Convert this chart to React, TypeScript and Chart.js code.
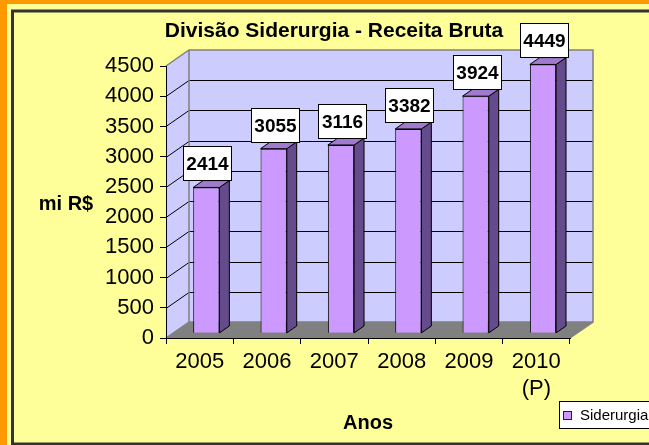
import React, { useEffect, useRef } from "react";
import { Chart, registerables } from "chart.js";

Chart.register(...registerables);

// ---- data ----
const categories: (string | string[])[] = ["2005", "2006", "2007", "2008", "2009", ["2010", "(P)"]];
const seriesLabel = "Siderurgia";
const values = [2414, 3055, 3116, 3382, 3924, 4449];
const yMin = 0;
const yMax = 4500;
const yStep = 500;
const chartTitle = "Divisão Siderurgia - Receita Bruta";
const yTitle = "mi R$";
const xTitle = "Anos";

// ---- style ----
const FONT = "'Liberation Sans', Arial, Helvetica, sans-serif";
const ORANGE = "#FF9900";
const YELLOW = "#FFFF99";
const FRAME = "#333333";
const WALL = "#CCCCFF";
const FLOOR = "#808080";
const EDGE = "#808080";
const BAR_FRONT = "#CC99FF";
const BAR_SIDE = "#644C8C";
const BAR_TOP = "#A07ACC";
const DX = 23;
const DY = 16;
const FRONT_F = 0.29;
const BACK_F = 0.72;

const W = 649;
const H = 445;

const threeD = {
  id: "threeD",
  beforeDraw(chart: any) {
    const ctx = chart.ctx as CanvasRenderingContext2D;
    ctx.save();
    // page frame
    ctx.fillStyle = ORANGE;
    ctx.fillRect(0, 0, W, H);
    ctx.fillStyle = YELLOW;
    ctx.fillRect(7, 4, W, H);
    ctx.strokeStyle = FRAME;
    ctx.lineWidth = 3;
    ctx.strokeRect(12.5, 11, 700, 433);

    const ys = chart.scales.y;
    const left = chart.chartArea.left;
    const right = chart.chartArea.right;
    const top = ys.getPixelForValue(yMax);
    const bottom = ys.getPixelForValue(yMin);

    // back wall
    ctx.fillStyle = WALL;
    ctx.fillRect(left + DX, top - DY, right - left, bottom - top);
    // left wall
    ctx.beginPath();
    ctx.moveTo(left, top);
    ctx.lineTo(left + DX, top - DY);
    ctx.lineTo(left + DX, bottom - DY);
    ctx.lineTo(left, bottom);
    ctx.closePath();
    ctx.fill();
    // floor
    ctx.fillStyle = FLOOR;
    ctx.beginPath();
    ctx.moveTo(left, bottom);
    ctx.lineTo(right, bottom);
    ctx.lineTo(right + DX, bottom - DY);
    ctx.lineTo(left + DX, bottom - DY);
    ctx.closePath();
    ctx.fill();

    // gridlines
    ctx.strokeStyle = "#000";
    ctx.lineWidth = 1;
    for (const t of ys.ticks) {
      if (t.value <= yMin || t.value >= yMax) continue;
      const py = Math.round(ys.getPixelForValue(t.value)) + 0.5;
      ctx.beginPath();
      ctx.moveTo(left, py);
      ctx.lineTo(left + DX, py - DY);
      ctx.lineTo(right + DX, py - DY);
      ctx.stroke();
    }
    // wall edges
    ctx.strokeStyle = EDGE;
    ctx.lineWidth = 1.5;
    ctx.beginPath();
    ctx.moveTo(left, top);
    ctx.lineTo(left + DX, top - DY);
    ctx.lineTo(right + DX, top - DY);
    ctx.lineTo(right + DX, bottom - DY);
    ctx.lineTo(right, bottom);
    ctx.moveTo(left + DX, top - DY);
    ctx.lineTo(left + DX, bottom - DY);
    ctx.lineTo(right + DX, bottom - DY);
    ctx.moveTo(left + DX, bottom - DY);
    ctx.lineTo(left, bottom);
    ctx.stroke();
    ctx.restore();
  },
  beforeDatasetDraw(chart: any) {
    const ctx = chart.ctx as CanvasRenderingContext2D;
    ctx.save();
    ctx.translate(DX * FRONT_F, -DY * FRONT_F);
  },
  afterDatasetDraw(chart: any, args: any) {
    const ctx = chart.ctx as CanvasRenderingContext2D;
    const bx = DX * (BACK_F - FRONT_F);
    const by = DY * (BACK_F - FRONT_F);
    ctx.lineWidth = 1;
    ctx.strokeStyle = "#000";
    for (const el of args.meta.data) {
      const p = el.getProps(["x", "y", "base", "width"], true);
      const l = p.x - p.width / 2;
      const r = p.x + p.width / 2;
      const t = p.y;
      const b = p.base;
      // side
      ctx.fillStyle = BAR_SIDE;
      ctx.beginPath();
      ctx.moveTo(r, t);
      ctx.lineTo(r + bx, t - by);
      ctx.lineTo(r + bx, b - by);
      ctx.lineTo(r, b);
      ctx.closePath();
      ctx.fill();
      ctx.stroke();
      // top
      ctx.fillStyle = BAR_TOP;
      ctx.beginPath();
      ctx.moveTo(l, t);
      ctx.lineTo(l + bx, t - by);
      ctx.lineTo(r + bx, t - by);
      ctx.lineTo(r, t);
      ctx.closePath();
      ctx.fill();
      ctx.stroke();
    }
    ctx.restore();
  },
  afterDraw(chart: any) {
    const ctx = chart.ctx as CanvasRenderingContext2D;
    ctx.save();
    // data labels
    const meta = chart.getDatasetMeta(0);
    const ds = chart.data.datasets[0];
    ctx.font = `bold 19px ${FONT}`;
    ctx.textAlign = "center";
    ctx.textBaseline = "middle";
    meta.data.forEach((el: any, i: number) => {
      const p = el.getProps(["x", "y"], true);
      const cx = p.x + DX * FRONT_F + 1;
      const bottomY = p.y - DY * FRONT_F - 7;
      const bw = 48;
      const bh = 34;
      const lx = Math.round(cx - bw / 2) + 0.5;
      const ty = Math.round(bottomY - bh) + 0.5;
      ctx.fillStyle = "#FFFFFF";
      ctx.fillRect(lx, ty, bw, bh);
      ctx.strokeStyle = "#000";
      ctx.lineWidth = 1;
      ctx.strokeRect(lx, ty, bw, bh);
      ctx.fillStyle = "#000";
      ctx.fillText(String(ds.data[i]), lx + bw / 2, ty + bh / 2 + 1);
    });

    // title
    ctx.font = `bold 21px ${FONT}`;
    ctx.fillStyle = "#000";
    ctx.textAlign = "center";
    ctx.fillText(chartTitle, 334, 31);
    // axis titles
    ctx.font = `bold 20px ${FONT}`;
    ctx.fillText(yTitle, 66, 204);
    ctx.fillText(xTitle, 368, 423);

    // legend
    ctx.fillStyle = "#FFFFFF";
    ctx.fillRect(559.5, 401.5, 120, 27);
    ctx.strokeStyle = "#000";
    ctx.lineWidth = 1;
    ctx.strokeRect(559.5, 401.5, 120, 27);
    ctx.fillStyle = ds.backgroundColor as string;
    ctx.fillRect(563.5, 411.5, 8, 8);
    ctx.strokeStyle = "#222";
    ctx.strokeRect(563.5, 411.5, 8, 8);
    ctx.fillStyle = "#000";
    ctx.font = `15px ${FONT}`;
    ctx.textAlign = "left";
    ctx.fillText(ds.label, 580, 416);
    ctx.restore();
  },
};

export default function App() {
  const ref = useRef<HTMLCanvasElement | null>(null);
  useEffect(() => {
    if (!ref.current) return;
    const chart = new Chart(ref.current, {
      type: "bar",
      data: {
        labels: categories,
        datasets: [
          {
            label: seriesLabel,
            data: values,
            backgroundColor: BAR_FRONT,
            borderColor: "#000",
            borderWidth: 1,
            barPercentage: 0.39,
            categoryPercentage: 1,
            clip: false as any,
          },
        ],
      },
      options: {
        animation: false,
        responsive: false,
        devicePixelRatio: 1,
        layout: { padding: { top: 66, right: 79, bottom: 0, left: 0 } },
        plugins: {
          legend: { display: false },
          title: { display: false },
          tooltip: { enabled: false },
        },
        scales: {
          x: {
            ticks: {
              color: "#000",
              font: { family: FONT, size: 22, lineHeight: 1.27 },
              padding: 3.5,
              maxRotation: 0,
              autoSkip: false,
            },
            grid: { drawOnChartArea: false, drawTicks: true, tickLength: 6, color: "#000" },
            border: { display: true, color: "#000", width: 1 },
            afterFit: (s: any) => {
              s.height = 107;
            },
          },
          y: {
            min: yMin,
            max: yMax,
            ticks: {
              stepSize: yStep,
              color: "#000",
              font: { family: FONT, size: 22 },
              padding: 6,
              callback: (v: any) => String(v),
            },
            grid: { drawOnChartArea: false, drawTicks: true, tickLength: 6, color: "#000" },
            border: { display: true, color: "#000", width: 1 },
            afterFit: (s: any) => {
              s.width = 166;
            },
          },
        },
      },
      plugins: [threeD],
    });
    return () => chart.destroy();
  }, []);
  return (
    <div style={{ position: "fixed", left: 0, top: 0, width: W, height: H, overflow: "hidden" }}>
      <canvas ref={ref} width={W} height={H} style={{ display: "block" }} />
    </div>
  );
}
